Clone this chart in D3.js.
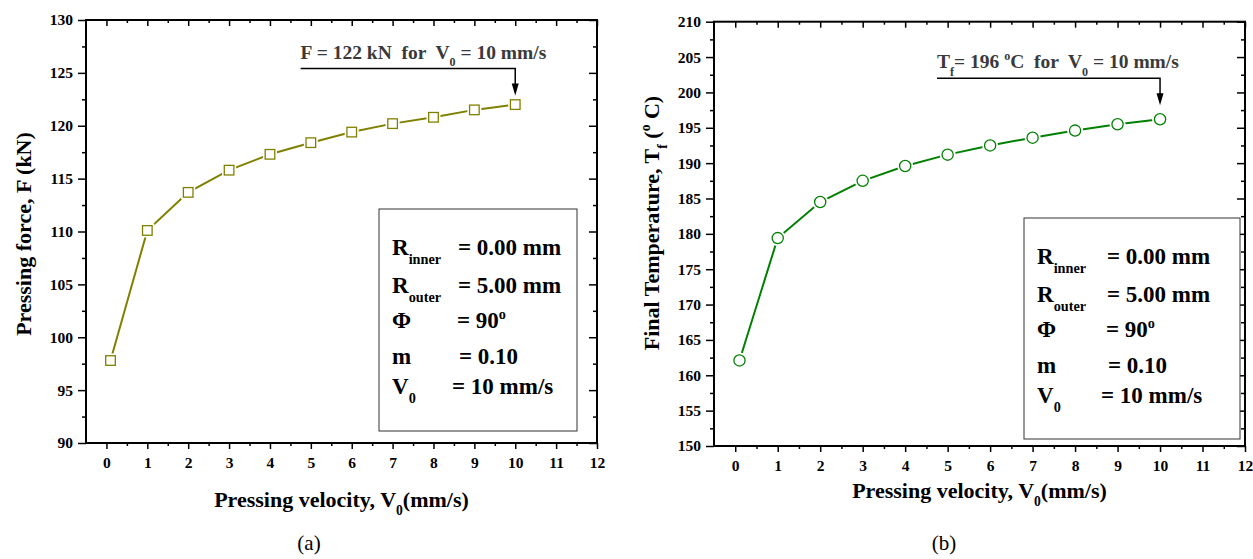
<!DOCTYPE html>
<html>
<head>
<meta charset="utf-8">
<script src="https://cdn.jsdelivr.net/npm/d3@7"></script>
<style>
  body { margin: 0; background: #fff; }
  text { font-family: "Liberation Serif", "Times New Roman", serif; }
</style>
</head>
<body>
<div id="chart"></div>
<script>
// Data
const velocity = [0.1, 1, 2, 3, 4, 5, 6, 7, 8, 9, 10];
const force = [97.8, 110.1, 113.7, 115.8, 117.3, 118.4, 119.4, 120.2, 120.8, 121.5, 122.0];
const temperature = [162.1, 179.4, 184.5, 187.5, 189.6, 191.2, 192.5, 193.6, 194.6, 195.5, 196.2];
const xTicks = [0, 1, 2, 3, 4, 5, 6, 7, 8, 9, 10, 11, 12];
const forceTicks = [90, 95, 100, 105, 110, 115, 120, 125, 130];
const tempTicks = [150, 155, 160, 165, 170, 175, 180, 185, 190, 195, 200, 205, 210];
const legendRows = [
  [["R"], ["inner", "sub"], ["= 0.00 mm", null, "eq"]],
  [["R"], ["outer", "sub"], ["= 5.00 mm", null, "eq"]],
  [["Φ"], ["= 90", null, "eq"], ["o", "sup"]],
  [["m"], ["= 0.10", null, "eq"]],
  [["V"], ["0", "sub"], ["= 10 mm/s", null, "eq"]]
];

const svg = d3.select("#chart").append("svg")
    .attr("width", 1253)
    .attr("height", 559);

// text with sub/superscript pieces
function rich(sel, parts, size, eqX) {
    let shift = 0;
    parts.forEach(p => {
        const [txt, kind, tag] = p;
        const target = kind === "sub" ? size * 0.38 : kind === "sup" ? -size * 0.4 : 0;
        const t = sel.append("tspan").attr("dy", target - shift).text(txt);
        if (kind) t.attr("font-size", size * 0.62);
        if (tag === "eq" && eqX != null) t.attr("x", eqX);
        shift = target;
    });
}

function minorOf(ticks) {
    const out = [];
    for (let i = 0; i < ticks.length - 1; i++) out.push((ticks[i] + ticks[i + 1]) / 2);
    return out;
}

function panel(o) {
    const g = svg.append("g").attr("transform", `translate(${o.left},${o.top})`);
    const x = d3.scaleLinear().domain([-0.5, 12]).range([0, o.width]);
    const y = d3.scaleLinear().domain([o.ticks[0], o.ticks[o.ticks.length - 1]]).range([o.height, 0]);

    // axes (bottom/left outward, top/right inward)
    const styleAxis = sel => {
        sel.select(".domain").remove();
        sel.selectAll("line").attr("stroke", "#000").attr("stroke-width", 1.5);
        sel.selectAll("text").attr("font-size", 15.5).attr("font-weight", "bold")
            .attr("font-family", "Liberation Serif, serif").attr("fill", "#000");
    };
    g.append("g").attr("transform", `translate(0,${o.height})`)
        .call(d3.axisBottom(x).tickValues(xTicks).tickSize(6).tickPadding(8).tickFormat(d3.format("d")))
        .call(styleAxis);
    g.append("g").attr("transform", `translate(0,${o.height})`)
        .call(d3.axisBottom(x).tickValues(minorOf(xTicks)).tickSize(3).tickFormat(""))
        .call(styleAxis);
    g.append("g")
        .call(d3.axisLeft(y).tickValues(o.ticks).tickSize(8).tickPadding(5).tickFormat(d3.format("d")))
        .call(styleAxis);
    g.append("g")
        .call(d3.axisLeft(y).tickValues(minorOf(o.ticks)).tickSize(4).tickFormat(""))
        .call(styleAxis);
    g.append("g")
        .call(d3.axisBottom(x).tickValues(xTicks).tickSize(6).tickFormat(""))
        .call(styleAxis);
    g.append("g")
        .call(d3.axisBottom(x).tickValues(minorOf(xTicks)).tickSize(3).tickFormat(""))
        .call(styleAxis);
    g.append("g").attr("transform", `translate(${o.width},0)`)
        .call(d3.axisLeft(y).tickValues(o.ticks).tickSize(8).tickFormat(""))
        .call(styleAxis);
    g.append("g").attr("transform", `translate(${o.width},0)`)
        .call(d3.axisLeft(y).tickValues(minorOf(o.ticks)).tickSize(4).tickFormat(""))
        .call(styleAxis);

    g.append("rect")
        .attr("width", o.width).attr("height", o.height)
        .attr("fill", "none").attr("stroke", "#000").attr("stroke-width", 2);

    // series
    const pts = velocity.map((v, i) => ({ v, val: o.values[i] }));
    g.append("path")
        .datum(pts)
        .attr("fill", "none")
        .attr("stroke", o.color)
        .attr("stroke-width", 2)
        .attr("d", d3.line().x(d => x(d.v)).y(d => y(d.val)));

    if (o.marker === "square") {
        g.selectAll(".halo").data(pts).join("rect")
            .attr("x", d => x(d.v) - 7).attr("y", d => y(d.val) - 7)
            .attr("width", 14).attr("height", 14).attr("fill", "#fff");
        g.selectAll(".mk").data(pts).join("rect")
            .attr("x", d => x(d.v) - 4.8).attr("y", d => y(d.val) - 4.8)
            .attr("width", 9.6).attr("height", 9.6)
            .attr("fill", "#fff").attr("stroke", o.color).attr("stroke-width", 1.3);
    } else {
        g.selectAll(".halo").data(pts).join("circle")
            .attr("cx", d => x(d.v)).attr("cy", d => y(d.val)).attr("r", 8).attr("fill", "#fff");
        g.selectAll(".mk").data(pts).join("circle")
            .attr("cx", d => x(d.v)).attr("cy", d => y(d.val)).attr("r", 5.6)
            .attr("fill", "#fff").attr("stroke", o.color).attr("stroke-width", 1.3);
    }

    // annotation arrow
    const last = pts[pts.length - 1];
    const ax0 = x(o.annoStart), ax1 = x(last.v);
    const ay = y(last.val) - o.annoRise;
    const tip = y(last.val) - o.annoGap;
    g.append("path")
        .attr("d", `M${ax0},${ay}H${ax1}V${tip - 10}`)
        .attr("fill", "none").attr("stroke", "#000").attr("stroke-width", 1.5);
    g.append("path")
        .attr("d", `M${ax1 - 3.5},${tip - 12}L${ax1 + 3.5},${tip - 12}L${ax1},${tip}Z`)
        .attr("fill", "#000");
    const at = g.append("text")
        .attr("x", ax0).attr("y", ay - 10)
        .attr("font-size", 19.5).attr("font-weight", "bold").attr("fill", "#3a3a3a")
        .style("white-space", "pre");
    rich(at, o.annoText, 19.5);

    // parameter box
    const bx = o.box[0] - o.left, by = o.box[1] - o.top;
    g.append("rect")
        .attr("x", bx).attr("y", by).attr("width", o.box[2]).attr("height", o.box[3])
        .attr("fill", "#fff").attr("stroke", "#333").attr("stroke-width", 1);
    const rowY = [46, 84, 119, 155, 185];
    const eqShift = [0, 0, -1, 1, -6];
    legendRows.forEach((row, i) => {
        const t = g.append("text")
            .attr("x", bx + 13).attr("y", by + rowY[i])
            .attr("font-size", 23).attr("font-weight", "bold").attr("fill", "#000");
        rich(t, row, 23, bx + o.eqOffset + eqShift[i]);
    });

    // axis titles
    const xt = g.append("text")
        .attr("x", o.width / 2).attr("y", o.xTitleY - o.top)
        .attr("text-anchor", "middle")
        .attr("font-size", 22).attr("font-weight", "bold").attr("fill", "#000");
    rich(xt, [["Pressing velocity, V"], ["0", "sub"], ["(mm/s)"]], 22);

    const yt = g.append("text")
        .attr("transform", `translate(${o.yTitleX - o.left},${o.yTitleMid - o.top}) rotate(-90)`)
        .attr("text-anchor", "middle")
        .attr("font-size", 22).attr("font-weight", "bold").attr("fill", "#000")
        .style("white-space", "pre");
    rich(yt, o.yTitle, 22);

    svg.append("text")
        .attr("x", o.caption[1]).attr("y", 550)
        .attr("text-anchor", "middle").attr("font-size", 21).attr("fill", "#000")
        .text(o.caption[0]);
}

panel({
    left: 86, top: 20, width: 511, height: 423,
    ticks: forceTicks, values: force,
    color: "#808000", marker: "square",
    annoStart: 4.75, annoRise: 36, annoGap: 9,
    annoText: [["F = 122 kN  for  V"], ["0", "sub"], [" = 10 mm/s"]],
    box: [379, 209, 198, 222], eqOffset: 79,
    xTitleY: 507, yTitleX: 31, yTitleMid: 234,
    yTitle: [["Pressing force, F (kN)"]],
    caption: ["(a)", 309]
});

panel({
    left: 714, top: 21.7, width: 531, height: 424.3,
    ticks: tempTicks, values: temperature,
    color: "#008000", marker: "circle",
    annoStart: 4.75, annoRise: 41, annoGap: 14,
    annoText: [["T"], ["f", "sub"], ["= 196 "], ["o", "sup"], ["C  for  V"], ["0", "sub"], [" = 10 mm/s"]],
    box: [1024, 218, 216, 221], eqOffset: 83,
    xTitleY: 498, yTitleX: 659, yTitleMid: 223,
    yTitle: [["Final Temperature, T"], ["f", "sub"], [" ("], ["o", "sup"], [" C)"]],
    caption: ["(b)", 944]
});
</script>
</body>
</html>
